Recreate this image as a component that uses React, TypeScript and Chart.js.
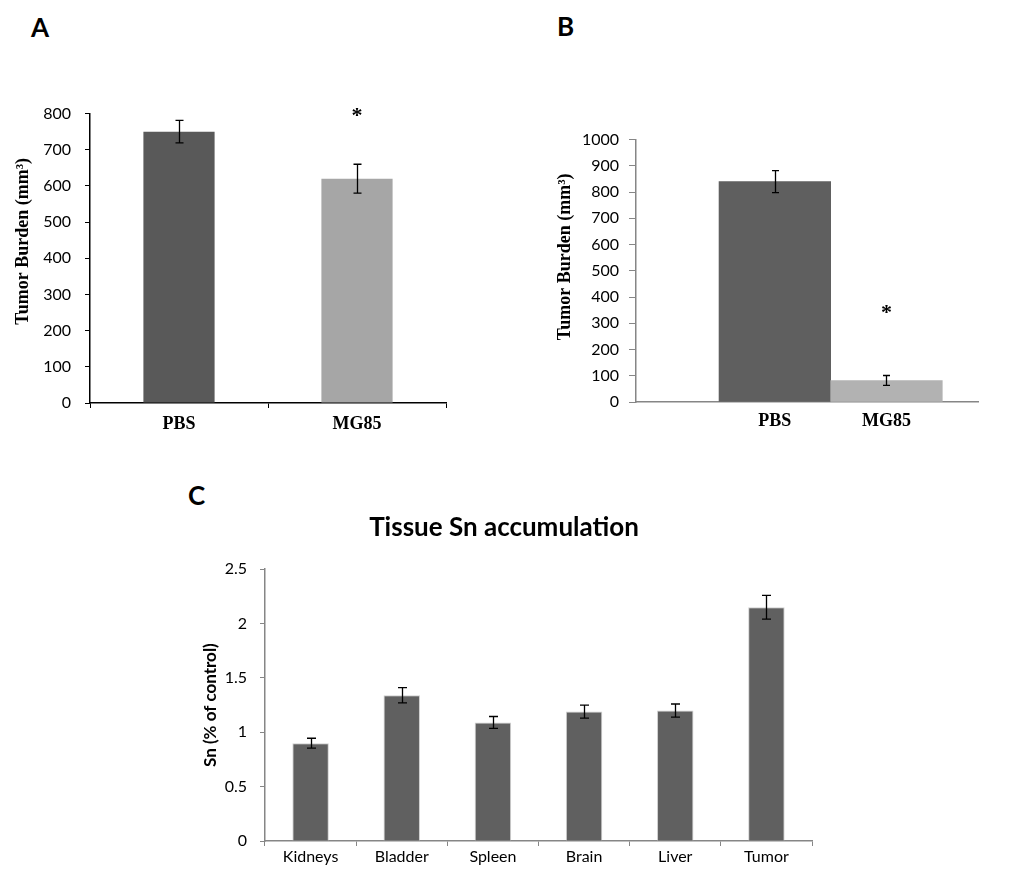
import React, { useEffect, useRef } from "react";
import { Chart, registerables } from "chart.js";

Chart.register(...registerables);

// ---------- data ----------
const groupsA = ["PBS", "MG85"];
const valuesA = [750, 620];
const errorsA = [31, 40];
const starsA: (number | null)[] = [null, 803];
const ticksA = { min: 0, max: 800, step: 100 };

const groupsB = ["PBS", "MG85"];
const positionsB = [1, 2];
const valuesB = [840, 82];
const errorsB = [42, 19];
const starsB: (number | null)[] = [null, 353];
const ticksB = { min: 0, max: 1000, step: 100 };

const tissuesC = ["Kidneys", "Bladder", "Spleen", "Brain", "Liver", "Tumor"];
const valuesC = [0.9, 1.34, 1.09, 1.19, 1.2, 2.15];
const errorsC = [0.045, 0.07, 0.055, 0.06, 0.06, 0.11];
const ticksC = { min: 0, max: 2.5, step: 0.5 };

const titleC = "Tissue Sn accumulation";
const yTitleAB = "Tumor Burden (mm³)";
const yTitleC = "Sn (% of control)";

// ---------- styles ----------
const SANS = "Lato, 'Open Sans', Arial, sans-serif";
const SERIF = "'Liberation Serif', 'Times New Roman', serif";

const errPlugin = {
  id: "errbars",
  afterDatasetsDraw(chart: any, _args: any, opts: any) {
    const meta = chart.getDatasetMeta(0);
    const ys = chart.scales.y;
    const ctx = chart.ctx;
    ctx.save();
    ctx.strokeStyle = "#000";
    ctx.lineWidth = opts.lineWidth || 1.3;
    const vals: number[] = opts.values || [];
    const errs: number[] = opts.errors || [];
    errs.forEach((e, i) => {
      const el = meta.data[i];
      if (!el || e == null) return;
      const x = Math.round(el.x) + 0.5;
      const yt = ys.getPixelForValue(vals[i] + e);
      const yb = ys.getPixelForValue(vals[i] - e);
      const c = opts.cap || 4;
      ctx.beginPath();
      ctx.moveTo(x, yt);
      ctx.lineTo(x, yb);
      ctx.moveTo(x - c, yt);
      ctx.lineTo(x + c, yt);
      ctx.moveTo(x - c, yb);
      ctx.lineTo(x + c, yb);
      ctx.stroke();
    });
    const stars: (number | null)[] = opts.stars || [];
    ctx.fillStyle = "#000";
    ctx.font = `bold 22px ${SERIF}`;
    ctx.textAlign = "center";
    ctx.textBaseline = "alphabetic";
    stars.forEach((s, i) => {
      const el = meta.data[i];
      if (!el || s == null) return;
      const py = ys.getPixelForValue(s);
      const m = ctx.measureText("*");
      const asc = m.actualBoundingBoxAscent;
      const desc = m.actualBoundingBoxDescent;
      ctx.fillText("*", el.x, py + (asc - desc) / 2);
    });
    // y-axis title (drawn here so it can sit slightly above the axis centre, as in the original)
    const yt = opts.yTitle;
    if (yt) {
      ctx.save();
      ctx.font = yt.font;
      ctx.fillStyle = "#000";
      ctx.textAlign = "center";
      ctx.textBaseline = "middle";
      const cy = (ys.top + ys.bottom) / 2 - (yt.shift || 0);
      ctx.translate(ys.left + yt.offset, cy);
      ctx.rotate(-Math.PI / 2);
      ctx.fillText(yt.text, 0, 0);
      ctx.restore();
    }
    ctx.restore();
  },
};

function ChartCanvas({ config, style, width, height }: any) {
  const ref = useRef<HTMLCanvasElement | null>(null);
  useEffect(() => {
    if (!ref.current) return;
    const ch = new Chart(ref.current, config);
    return () => ch.destroy();
  }, []);
  return (
    <canvas
      ref={ref}
      width={width}
      height={height}
      style={{ position: "absolute", width, height, ...style }}
    />
  );
}

function fixW(w: number) {
  return (s: any) => {
    s.width = w;
  };
}
function fixH(h: number) {
  return (s: any) => {
    s.height = h;
  };
}

const configA: any = {
  type: "bar",
  data: {
    labels: groupsA,
    datasets: [
      {
        data: valuesA,
        backgroundColor: ["#595959", "#a6a6a6"],
        barPercentage: 0.4,
        categoryPercentage: 1,
      },
    ],
  },
  options: {
    responsive: false,
    animation: false,
    devicePixelRatio: 1,
    layout: { padding: { left: 8, right: 24, top: 23, bottom: 0 } },
    plugins: {
      legend: { display: false },
      tooltip: { enabled: false },
      errbars: {
        values: valuesA,
        errors: errorsA,
        stars: starsA,
        cap: 4,
        yTitle: { text: yTitleAB, font: `bold 18px ${SERIF}`, offset: 15, shift: 17 },
      },
    },
    scales: {
      x: {
        afterFit: fixH(37),
        grid: {
          display: true,
          drawOnChartArea: false,
          drawTicks: true,
          tickLength: 5,
          tickColor: "#000",
          offset: true,
        },
        border: { display: true, color: "#000", width: 1.5 },
        ticks: { color: "#000", padding: 6, font: { family: SERIF, size: 18, weight: "bold" } },
      },
      y: {
        min: ticksA.min,
        max: ticksA.max,
        afterFit: fixW(82),
        grid: { display: true, drawOnChartArea: false, drawTicks: true, tickLength: 5, tickColor: "#000" },
        border: { display: true, color: "#000", width: 1.5 },
        ticks: {
          stepSize: ticksA.step,
          color: "#000",
          padding: 14,
          font: { family: SANS, size: 16 },
          callback: (v: any) => String(v),
        },
        title: { display: false },
      },
    },
  },
  plugins: [errPlugin],
};

const configB: any = {
  type: "bar",
  data: {
    datasets: [
      {
        data: positionsB.map((p, i) => ({ x: p, y: valuesB[i] })),
        backgroundColor: ["#5f5f5f", "#b2b2b2"],
        barPercentage: 1,
        categoryPercentage: 1,
      },
    ],
  },
  options: {
    responsive: false,
    animation: false,
    devicePixelRatio: 1,
    layout: { padding: { left: 10, right: 22, top: 15, bottom: 0 } },
    plugins: {
      legend: { display: false },
      tooltip: { enabled: false },
      errbars: {
        values: valuesB,
        errors: errorsB,
        stars: starsB,
        cap: 3.5,
        yTitle: { text: yTitleAB, font: `bold 18px ${SERIF}`, offset: 15, shift: 14 },
      },
    },
    scales: {
      x: {
        type: "linear",
        min: -0.244,
        max: 2.82,
        offset: false,
        afterFit: fixH(48),
        afterBuildTicks: (s: any) => {
          s.ticks = positionsB.map((p) => ({ value: p }));
        },
        grid: { display: false, drawTicks: false },
        border: { display: true, color: "#868686", width: 1.5 },
        ticks: {
          color: "#000",
          padding: 9,
          autoSkip: false,
          maxRotation: 0,
          font: { family: SERIF, size: 18, weight: "bold" },
          callback: (v: any) => {
            const i = positionsB.indexOf(v);
            return i >= 0 ? groupsB[i] : "";
          },
        },
      },
      y: {
        min: ticksB.min,
        max: ticksB.max,
        afterFit: fixW(86),
        grid: { display: true, drawOnChartArea: false, drawTicks: true, tickLength: 7, tickColor: "#868686" },
        border: { display: true, color: "#868686", width: 1.5 },
        ticks: {
          stepSize: ticksB.step,
          color: "#000",
          padding: 10,
          font: { family: SANS, size: 16 },
          callback: (v: any) => String(v),
        },
        title: { display: false },
      },
    },
  },
  plugins: [errPlugin],
};

const configC: any = {
  type: "bar",
  data: {
    labels: tissuesC,
    datasets: [
      {
        data: valuesC,
        backgroundColor: "#606060",
        borderColor: "#d0d0d0",
        borderWidth: { top: 1, left: 1, right: 1, bottom: 0 },
        barPercentage: 0.4,
        categoryPercentage: 1,
      },
    ],
  },
  options: {
    responsive: false,
    animation: false,
    devicePixelRatio: 1,
    layout: { padding: { left: 16, right: 12, top: 0, bottom: 0 } },
    plugins: {
      legend: { display: false },
      tooltip: { enabled: false },
      title: {
        display: true,
        text: titleC,
        color: "#000",
        font: { family: SANS, size: 26, weight: "bold", lineHeight: 1.2 },
        padding: { top: 17, bottom: 26 },
      },
      errbars: { values: valuesC, errors: errorsC, cap: 4.5 },
    },
    scales: {
      x: {
        afterFit: fixH(34),
        grid: {
          display: true,
          drawOnChartArea: false,
          drawTicks: true,
          tickLength: 5,
          tickColor: "#868686",
          offset: true,
        },
        border: { display: true, color: "#868686", width: 1.5 },
        ticks: { color: "#000", padding: 1, font: { family: SANS, size: 16 } },
      },
      y: {
        min: ticksC.min,
        max: ticksC.max,
        afterFit: fixW(69),
        grid: { display: true, drawOnChartArea: false, drawTicks: true, tickLength: 5, tickColor: "#868686" },
        border: { display: true, color: "#868686", width: 1.5 },
        ticks: {
          stepSize: ticksC.step,
          color: "#000",
          padding: 13,
          font: { family: SANS, size: 16 },
          callback: (v: any) => String(v),
        },
        title: {
          display: true,
          text: yTitleC,
          color: "#000",
          font: { family: SANS, size: 17, weight: "bold" },
        },
      },
    },
  },
  plugins: [errPlugin],
};

const letterStyle: any = {
  position: "absolute",
  fontFamily: SANS,
  fontWeight: "bold",
  fontSize: 26,
  lineHeight: 1,
  color: "#000",
};

export default function App() {
  return (
    <div
      style={{
        position: "absolute",
        left: 0,
        top: 0,
        width: 1020,
        height: 875,
        background: "#fff",
        overflow: "hidden",
      }}
    >
      <div style={{ ...letterStyle, left: 31, top: 14 }}>A</div>
      <div style={{ ...letterStyle, left: 557, top: 13 }}>B</div>
      <div style={{ ...letterStyle, left: 188, top: 482 }}>C</div>
      <ChartCanvas config={configA} width={470} height={350} style={{ left: 0, top: 90 }} />
      <ChartCanvas config={configB} width={460} height={330} style={{ left: 540, top: 120 }} />
      <ChartCanvas config={configC} width={644} height={380} style={{ left: 180, top: 495 }} />
    </div>
  );
}
